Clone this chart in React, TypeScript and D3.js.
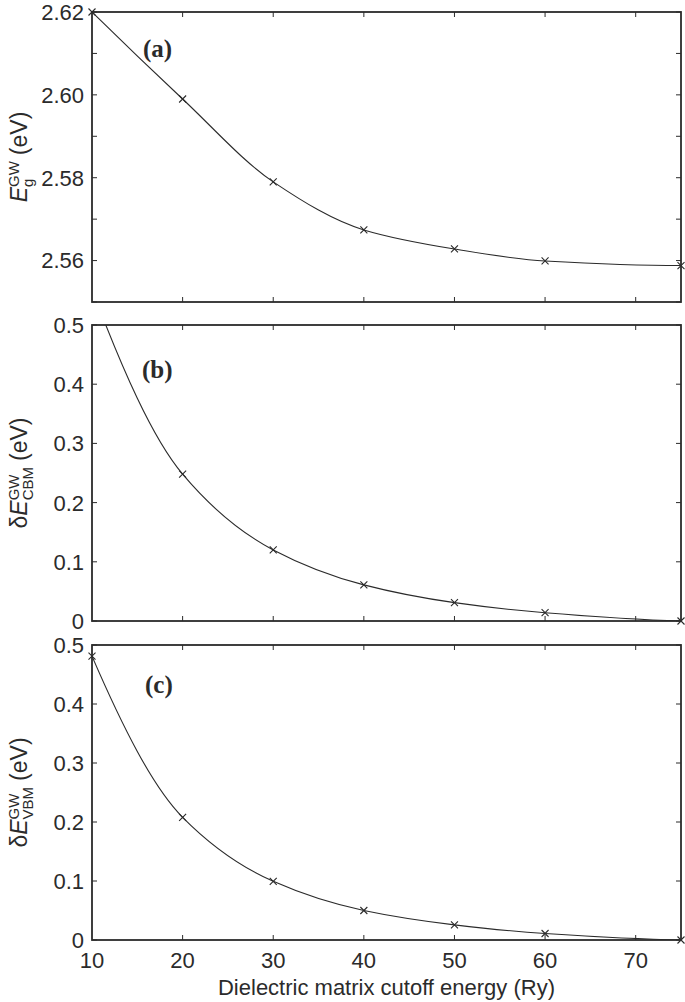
import { useEffect, useRef } from 'react';
import * as d3 from 'd3';

// cutoff energies (Ry) where GW was computed
const cutoff = [10, 20, 30, 40, 50, 60, 75];
// (a) quasiparticle gap (eV)
const gapGW = [2.62, 2.599, 2.579, 2.5674, 2.5628, 2.5599, 2.5588];
// (b) CBM shift relative to converged value (eV)
const shiftCBM = [0.56, 0.248, 0.12, 0.061, 0.031, 0.014, 0];
// (c) VBM shift relative to converged value (eV)
const shiftVBM = [0.481, 0.208, 0.0995, 0.05, 0.0257, 0.011, 0];

const xTickValues = [10, 20, 30, 40, 50, 60, 70];
const gapTickValues = [2.55, 2.56, 2.57, 2.58, 2.59, 2.6, 2.61, 2.62];
const gapLabelValues = [2.56, 2.58, 2.6, 2.62];
const shiftTickValues = [0, 0.1, 0.2, 0.3, 0.4, 0.5];

const WIDTH = 685;
const HEIGHT = 1002;
const SANS = '"Liberation Sans", Arial, Helvetica, sans-serif';
const SERIF = '"Liberation Serif", "Times New Roman", serif';
const INK = '#2b2b2b';

// smooth cubic through the points, tangents from a weighted harmonic mean
// (keeps decaying curves free of kinks and overshoot)
function curveSmooth(context) {
  let xs = [];
  let ys = [];
  return {
    areaStart() {},
    areaEnd() {},
    lineStart() { xs = []; ys = []; },
    point(px, py) { xs.push(+px); ys.push(+py); },
    lineEnd() {
      const n = xs.length;
      if (!n) return;
      context.moveTo(xs[0], ys[0]);
      if (n < 3) { if (n === 2) context.lineTo(xs[1], ys[1]); return; }
      const h = [];
      const s = [];
      for (let i = 0; i < n - 1; i++) {
        h.push(xs[i + 1] - xs[i]);
        s.push((ys[i + 1] - ys[i]) / h[i]);
      }
      const t = new Array(n).fill(0);
      for (let i = 1; i < n - 1; i++) {
        if (s[i - 1] * s[i] > 0) {
          const w1 = 2 * h[i] + h[i - 1];
          const w2 = h[i] + 2 * h[i - 1];
          t[i] = (w1 + w2) / (w1 / s[i - 1] + w2 / s[i]);
        }
      }
      const end = (h0, h1, s0, s1) => {
        let d = ((2 * h0 + h1) * s0 - h0 * s1) / (h0 + h1);
        if (d * s0 <= 0) d = 0;
        else if (Math.abs(d) > 3 * Math.abs(s0)) d = 3 * s0;
        return d;
      };
      t[0] = end(h[0], h[1], s[0], s[1]);
      t[n - 1] = end(h[n - 2], h[n - 3], s[n - 2], s[n - 3]);
      for (let i = 0; i < n - 1; i++) {
        const d = h[i] / 3;
        context.bezierCurveTo(
          xs[i] + d, ys[i] + t[i] * d,
          xs[i + 1] - d, ys[i + 1] - t[i + 1] * d,
          xs[i + 1], ys[i + 1]
        );
      }
    }
  };
}

export default function App() {
  const svgRef = useRef(null);

  useEffect(() => {
    if (!svgRef.current) return;
    const svg = d3.select(svgRef.current);
    svg.selectAll('*').remove();

    const left = 92;
    const right = 681;
    const x = d3.scaleLinear().domain([10, 75]).range([left, right]);

    const panels = [
      {
        id: 'a', top: 12, bottom: 302, domain: [2.55, 2.62], values: gapGW,
        ticks: gapTickValues, labels: gapLabelValues, fmt: d3.format('.2f'),
        tag: '(a)', tagX: 143, tagY: 57,
        ylabel: [
          { t: 'E', italic: true },
          { t: 'g', small: true, dy: 6 },
          { t: 'GW', small: true, dy: -8, stack: true },
          { t: '(eV)', gap: 6 }
        ]
      },
      {
        id: 'b', top: 325, bottom: 621, domain: [0, 0.5], values: shiftCBM,
        ticks: shiftTickValues, labels: shiftTickValues, fmt: (d) => (d === 0 ? '0' : d3.format('.1f')(d)),
        tag: '(b)', tagX: 142, tagY: 378,
        ylabel: [
          { t: 'δ' },
          { t: 'E', italic: true },
          { t: 'CBM', small: true, dy: 6 },
          { t: 'GW', small: true, dy: -8, stack: true },
          { t: '(eV)', gap: 6 }
        ]
      },
      {
        id: 'c', top: 645, bottom: 940, domain: [0, 0.5], values: shiftVBM,
        ticks: shiftTickValues, labels: shiftTickValues, fmt: (d) => (d === 0 ? '0' : d3.format('.1f')(d)),
        tag: '(c)', tagX: 145, tagY: 693,
        ylabel: [
          { t: 'δ' },
          { t: 'E', italic: true },
          { t: 'VBM', small: true, dy: 6 },
          { t: 'GW', small: true, dy: -8, stack: true },
          { t: '(eV)', gap: 6 }
        ]
      }
    ];

    const tickLen = 5;

    panels.forEach((p, pi) => {
      const y = d3.scaleLinear().domain(p.domain).range([p.bottom, p.top]);
      const g = svg.append('g');

      g.append('clipPath').attr('id', `clip-${p.id}`)
        .append('rect')
        .attr('x', left).attr('y', p.top)
        .attr('width', right - left).attr('height', p.bottom - p.top);

      const pts = cutoff.map((c, i) => ({ c, v: p.values[i] }));

      const line = d3.line()
        .x((d) => x(d.c))
        .y((d) => y(d.v))
        .curve(curveSmooth);

      g.append('path')
        .datum(pts)
        .attr('clip-path', `url(#clip-${p.id})`)
        .attr('fill', 'none')
        .attr('stroke', INK)
        .attr('stroke-width', 1.1)
        .attr('d', line);

      // y ticks (left + right, inward)
      p.ticks.forEach((t) => {
        g.append('line').attr('x1', left).attr('x2', left + tickLen)
          .attr('y1', y(t)).attr('y2', y(t)).attr('stroke', INK).attr('stroke-width', 1);
        g.append('line').attr('x1', right).attr('x2', right - tickLen)
          .attr('y1', y(t)).attr('y2', y(t)).attr('stroke', INK).attr('stroke-width', 1);
      });

      // x ticks (top + bottom, inward)
      xTickValues.filter((t) => t > 10).forEach((t) => {
        g.append('line').attr('x1', x(t)).attr('x2', x(t))
          .attr('y1', p.top).attr('y2', p.top + tickLen).attr('stroke', INK).attr('stroke-width', 1);
        g.append('line').attr('x1', x(t)).attr('x2', x(t))
          .attr('y1', p.bottom).attr('y2', p.bottom - tickLen).attr('stroke', INK).attr('stroke-width', 1);
      });

      // frame
      g.append('rect')
        .attr('x', left).attr('y', p.top)
        .attr('width', right - left).attr('height', p.bottom - p.top)
        .attr('fill', 'none').attr('stroke', INK).attr('stroke-width', 1.8);

      // markers
      const s = 3.5;
      g.selectAll('.mk')
        .data(pts.filter((d) => d.v <= p.domain[1] + 1e-9))
        .enter().append('path')
        .attr('d', (d) => {
          const cx = x(d.c), cy = y(d.v);
          return `M${cx - s},${cy - s}L${cx + s},${cy + s}M${cx - s},${cy + s}L${cx + s},${cy - s}`;
        })
        .attr('stroke', INK)
        .attr('stroke-width', 1.1)
        .attr('fill', 'none');

      // y tick labels
      p.labels.forEach((t) => {
        g.append('text')
          .attr('x', 84).attr('y', y(t)).attr('dy', '0.36em')
          .attr('text-anchor', 'end')
          .attr('font-family', SANS).attr('font-size', 22)
          .attr('fill', INK)
          .text(p.fmt(t));
      });

      // panel tag
      g.append('text')
        .attr('x', p.tagX).attr('y', p.tagY)
        .attr('font-family', SERIF).attr('font-weight', 'bold').attr('font-size', 25)
        .attr('fill', INK)
        .text(p.tag);

      // y axis label (rotated, with stacked sub/superscripts)
      const cy = (p.top + p.bottom) / 2;
      const outer = g.append('g').attr('transform', `translate(27,${cy}) rotate(-90)`);
      const inner = outer.append('g');
      let pen = 0;
      let prevStart = 0;
      let prevEnd = 0;
      p.ylabel.forEach((part) => {
        if (part.gap) pen += part.gap;
        const start = part.stack ? prevStart : pen;
        const t = inner.append('text')
          .attr('x', start).attr('y', part.dy || 0)
          .attr('font-family', SANS)
          .attr('font-size', part.small ? 15 : 23)
          .attr('font-style', part.italic ? 'italic' : 'normal')
          .attr('fill', INK)
          .text(part.t);
        const w = t.node().getComputedTextLength();
        const end = start + w;
        if (part.stack) {
          pen = Math.max(prevEnd, end);
        } else {
          prevStart = start;
          prevEnd = end;
          pen = end;
        }
      });
      inner.attr('transform', `translate(${-pen / 2},0)`);

      // x tick labels on the bottom panel only
      if (pi === panels.length - 1) {
        xTickValues.forEach((t) => {
          g.append('text')
            .attr('x', x(t)).attr('y', p.bottom + 28)
            .attr('text-anchor', 'middle')
            .attr('font-family', SANS).attr('font-size', 22)
            .attr('fill', INK)
            .text(t);
        });
      }
    });

    svg.append('text')
      .attr('x', (left + right) / 2).attr('y', 995)
      .attr('text-anchor', 'middle')
      .attr('font-family', SANS).attr('font-size', 22)
      .attr('fill', INK)
      .text('Dielectric matrix cutoff energy (Ry)');
  }, []);

  return (
    <div style={{ position: 'absolute', left: 0, top: 0 }}>
      <svg ref={svgRef} width={WIDTH} height={HEIGHT} style={{ display: 'block', background: '#fff' }} />
    </div>
  );
}
